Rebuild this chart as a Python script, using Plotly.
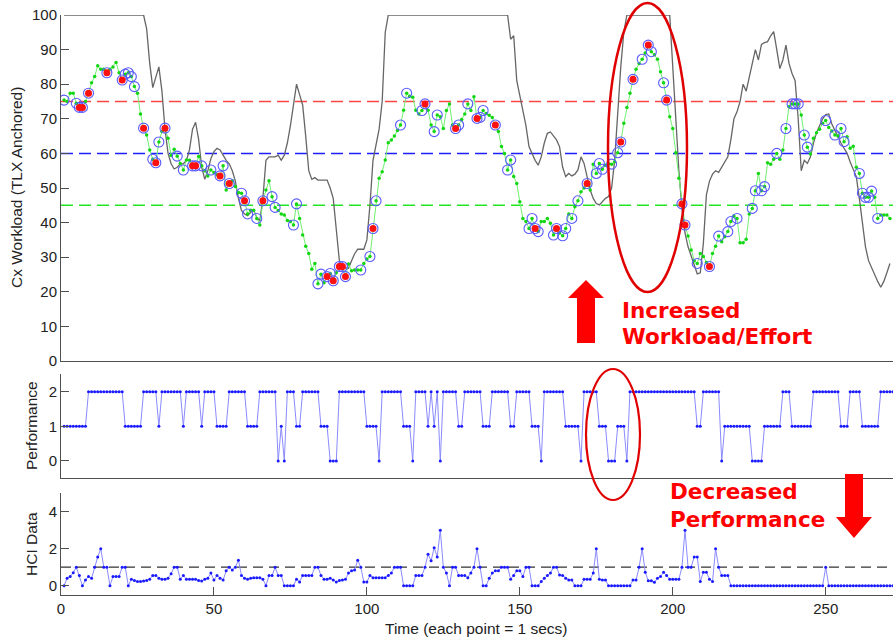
import plotly.graph_objects as go

# ---------------- data (one value per second, starting at t = 1) ----------------
workload_est = [
    75.4, 75.0, 77.4, 77.4, 74.5, 73.3, 73.3, 75.0, 77.4, 80.4,   # 1-10
    82.2, 85.3, 84.3, 84.3, 83.3, 84.3, 85.0, 86.3, 83.3, 81.2,   # 11-20
    82.9, 83.3, 82.2, 79.3, 77.4, 71.4, 67.3, 65.3, 61.0, 58.3,   # 21-30
    57.3, 63.3, 66.3, 67.3, 64.4, 59.4, 61.2, 59.2, 57.1, 55.2,   # 31-40
    58.1, 58.0, 56.4, 56.4, 59.1, 56.4, 55.0, 53.5, 55.2, 54.5,   # 41-50
    53.8, 53.5, 56.4, 49.4, 51.3, 52.1, 50.4, 48.7, 48.5, 46.3,   # 51-60
    42.5, 43.6, 43.6, 41.2, 39.3, 46.3, 49.4, 52.1, 47.5, 44.4,   # 61-70
    43.5, 42.5, 42.2, 40.6, 40.3, 39.3, 45.4, 41.2, 36.4, 33.2,   # 71-80
    31.1, 26.5, 28.2, 22.3, 25.1, 22.6, 24.4, 25.3, 23.2, 25.5,   # 81-90
    27.3, 27.3, 24.4, 28.0, 26.1, 26.3, 26.3, 26.3, 28.2, 29.5,   # 91-100
    30.2, 38.3, 46.3, 52.8, 54.7, 58.1, 63.1, 63.9, 65.0, 66.6,   # 101-110
    68.2, 72.5, 77.4, 76.5, 76.2, 72.5, 71.4, 72.4, 74.3, 72.5,   # 111-120
    68.2, 66.3, 71.1, 70.6, 67.2, 72.4, 74.3, 68.2, 67.2, 68.2,   # 121-130
    69.8, 71.4, 74.3, 72.4, 76.4, 70.1, 70.4, 72.4, 71.5, 71.0,   # 131-140
    70.4, 68.2, 66.3, 62.0, 60.0, 55.2, 58.1, 53.3, 51.3, 46.0,   # 141-150
    41.2, 40.3, 38.3, 41.2, 38.3, 37.4, 40.3, 40.3, 41.2, 39.8,   # 151-160
    36.4, 38.3, 37.0, 36.2, 38.3, 42.5, 41.2, 44.6, 46.3, 48.9,   # 161-170
    50.0, 51.3, 49.4, 56.9, 54.2, 57.1, 55.4, 56.6, 57.0, 56.9,   # 171-180
    57.6, 60.2, 63.3, 68.7, 73.3, 77.4, 81.4, 84.3, 86.0, 87.2,   # 181-190
    89.0, 91.3, 89.4, 88.5, 87.2, 83.6, 80.4, 75.4, 70.6, 67.2,   # 191-200
    60.2, 52.8, 45.4, 39.3, 36.1, 32.1, 29.0, 28.2, 31.1, 30.2,   # 201-210
    28.5, 27.3, 31.1, 33.2, 36.1, 34.5, 35.9, 37.4, 40.3, 41.9,   # 211-220
    41.2, 34.2, 34.2, 35.2, 42.5, 44.1, 49.2, 54.2, 49.2, 50.4,   # 221-230
    57.3, 56.9, 58.3, 60.0, 58.3, 61.0, 67.2, 73.5, 74.3, 74.3,   # 231-240
    74.3, 71.1, 65.3, 61.8, 59.8, 64.4, 66.0, 67.0, 68.7, 69.5,   # 241-250
    67.5, 66.5, 65.3, 65.0, 67.2, 63.4, 64.8, 61.5, 62.1, 56.0,   # 251-260
    54.2, 48.5, 47.3, 47.3, 49.1, 47.3, 41.2, 42.2, 42.2, 42.2,   # 261-270
    41.2,                                                         # 271
]

workload_raw = [
    100, 100, 100, 100, 100, 100, 100, 100, 100, 100,             # 1-10
    100, 100, 100, 100, 100, 100, 100, 100, 100, 100,             # 11-20
    100, 100, 100, 100, 100, 100, 100, 96, 86, 79,                # 21-30
    82, 85, 78, 67, 60, 57, 55.5, 56, 57, 57,                     # 31-40
    58, 61, 67, 69, 64, 56, 52.5, 55, 58.5, 60.5,                 # 41-50
    61.5, 61, 59.5, 58, 57, 55, 52, 47, 43.5, 42.5,               # 51-60
    42, 43, 43.5, 41.5, 40.5, 47, 58, 59, 59, 59,                 # 61-70
    59.5, 58, 59.5, 63, 68, 74, 80, 77, 74, 65,                   # 71-80
    55, 52.5, 53, 52.3, 52.3, 52.3, 52.3, 50, 47, 38,             # 81-90
    29, 27, 26.8, 26.8, 29, 31, 32.3, 32.3, 32.3, 35,             # 91-100
    45, 58, 63, 67, 75, 95, 100, 100, 100, 100,                   # 101-110
    100, 100, 100, 100, 100, 100, 100, 100, 100, 100,             # 111-120
    100, 100, 100, 100, 100, 100, 100, 100, 100, 100,             # 121-130
    100, 100, 100, 100, 100, 100, 100, 100, 100, 100,             # 131-140
    100, 100, 100, 100, 100, 100, 93, 94, 81, 77,                 # 141-150
    72.5, 68, 62, 60, 58, 56.6, 59, 63, 65.8, 66.2,               # 151-160
    65, 63.9, 61.9, 56, 53.3, 54.2, 53.5, 54, 55.2, 59,           # 161-170
    57.1, 53, 49.4, 47, 45.5, 45.1, 46, 47, 47.5, 50,             # 171-180
    58, 73, 85, 95, 100, 100, 100, 100, 100, 100,                 # 181-190
    100, 100, 100, 100, 100, 100, 100, 100, 100, 85,              # 191-200
    70, 55, 44, 37, 33, 30.2, 27.5, 25.2, 25.5, 34,               # 201-210
    48, 52, 54, 55, 54.5, 56, 57.6, 59, 64, 70,                   # 211-220
    72, 75, 80, 78, 82, 86, 90, 87, 91.5, 92,                     # 221-230
    92.3, 94, 95.2, 90, 84.5, 87, 91.3, 86, 83.1, 81,             # 231-240
    70, 55, 58, 57.1, 59, 63, 66, 68, 70, 71.2,                   # 241-250
    71.4, 68.5, 66.5, 64.5, 63, 61.5, 60, 57.5, 55.5, 53.3,       # 251-260
    47, 40, 33, 29, 27, 24.5, 23, 21.3, 23, 25.5,                 # 261-270
    28.2,                                                         # 271
]

circled_seconds = [
    1, 5, 6, 7, 9, 15, 20, 21, 22, 23, 24, 27, 30, 31, 32, 34, 38, 40, 43, 44,
    46, 49, 52, 53, 55, 59, 60, 61, 64, 66, 69, 70, 76, 77, 84, 85, 87, 88, 89,
    91, 92, 93, 98, 101, 102, 103, 111, 113, 118, 119, 122, 123, 129, 130, 133,
    136, 137, 138, 142, 146, 147, 153, 154, 155, 156, 161, 162, 164, 165, 167,
    169, 172, 175, 176, 177, 180, 182, 183, 187, 190, 192, 193, 197, 198, 203,
    204, 208, 212, 215, 218, 219, 221, 226, 227, 229, 230, 234, 237, 239, 240,
    241, 243, 244, 250, 253, 255, 256, 261, 262, 263, 264, 265, 267,
]
red_seconds = [
    6, 7, 9, 15, 20, 27, 31, 34, 43, 44, 52, 55, 60, 66, 87, 89, 91, 92, 93,
    102, 119, 129, 136, 142, 155, 162, 172, 183, 187, 192, 198, 203, 204, 212,
]

performance = [
    1, 1, 1, 1, 1, 1, 1, 1, 2, 2,   # 1-10
    2, 2, 2, 2, 2, 2, 2, 2, 2, 2,   # 11-20
    1, 1, 1, 1, 1, 1, 2, 2, 2, 2,   # 21-30
    2, 1, 2, 2, 2, 2, 2, 2, 2, 1,   # 31-40
    2, 2, 2, 2, 2, 1, 2, 2, 2, 2,   # 41-50
    1, 1, 1, 1, 2, 2, 2, 2, 2, 2,   # 51-60
    1, 1, 1, 1, 2, 2, 2, 2, 2, 2,   # 61-70
    0, 1, 0, 2, 2, 2, 1, 1, 2, 2,   # 71-80
    2, 2, 2, 2, 1, 1, 1, 0, 0, 0,   # 81-90
    2, 2, 2, 2, 2, 2, 2, 2, 2, 1,   # 91-100
    1, 1, 1, 0, 2, 2, 2, 2, 2, 2,   # 101-110
    2, 1, 1, 1, 0, 2, 2, 2, 2, 1,   # 111-120
    2, 1, 2, 0, 2, 2, 2, 2, 2, 1,   # 121-130
    1, 2, 2, 2, 2, 2, 2, 1, 1, 1,   # 131-140
    2, 2, 2, 2, 2, 2, 1, 1, 2, 2,   # 141-150
    2, 2, 2, 1, 1, 1, 0, 2, 2, 2,   # 151-160
    2, 2, 2, 2, 1, 1, 1, 1, 1, 0,   # 161-170
    2, 2, 2, 2, 2, 1, 1, 1, 0, 0,   # 171-180
    0, 1, 1, 1, 0, 2, 2, 2, 2, 2,   # 181-190
    2, 2, 2, 2, 2, 2, 2, 2, 2, 2,   # 191-200
    2, 2, 2, 2, 2, 2, 2, 1, 1, 2,   # 201-210
    2, 2, 2, 2, 2, 0, 1, 1, 1, 1,   # 211-220
    1, 1, 1, 1, 1, 0, 0, 0, 0, 1,   # 221-230
    1, 1, 1, 1, 1, 2, 2, 2, 1, 1,   # 231-240
    1, 1, 1, 1, 1, 2, 2, 2, 2, 2,   # 241-250
    2, 2, 2, 2, 1, 1, 1, 2, 2, 2,   # 251-260
    2, 1, 1, 1, 1, 1, 1, 2, 2, 2,   # 261-270
    2, 2,                           # 271-272
]

hci_data = [
    0, 0.4, 0.5, 0.7, 1.0, 0.55, 0, 0.3, 0.5, 0.4,                    # 1-10
    1.0, 1.55, 2.0, 1.0, 1.0, 0, 0.5, 0.5, 0.5, 1.0,                  # 11-20
    1.0, 0, 0.35, 0.28, 0.22, 0.22, 0.25, 0.28, 0.35, 0.55,           # 21-30
    0.55, 0.4, 0.35, 0.35, 0.4, 0.65, 1.0, 1.0, 0.35, 0.55,           # 31-40
    0.35, 0.35, 0.35, 0.35, 0.28, 0.25, 0.35, 0.4, 0.68, 0.3,         # 41-50
    0.55, 0.4, 0.3, 0.8, 1.0, 0.85, 1.0, 1.38, 0.55, 0.4,             # 51-60
    0.35, 0.4, 0.43, 0.43, 0.43, 0.35, 0, 0.55, 0.55, 1.0,            # 61-70
    0.55, 0.55, 0, 0, 0, 0, 0.35, 0.2, 0.55, 0.55,                    # 71-80
    0.55, 0.55, 1.0, 1.0, 0.55, 0.35, 0.35, 0.4, 0.3, 0.2,            # 81-90
    0.28, 0.3, 0.35, 0.68, 0.8, 0.85, 1.38, 1.0, 0.2, 0.2,            # 91-100
    0.55, 0.43, 0.43, 0.43, 0.43, 0.43, 0.55, 0.68, 1.0, 1.0,         # 101-110
    1.0, 0, 0, 0, 0, 0.55, 0.55, 0.55, 1.0, 1.7,                      # 111-120
    1.35, 2.05, 1.55, 3.0, 1.0, 0.68, 0, 1.0, 1.0, 0.55,              # 121-130
    0.55, 0.55, 0.43, 0.68, 1.0, 2.0, 1.0, 0, 0, 0.4,                 # 131-140
    0.68, 0.8, 0.8, 1.0, 1.0, 1.0, 0.35, 0.55, 0.8, 0.8,              # 141-150
    0.5, 1.0, 1.0, 0, 0, 0, 0.22, 0.4, 0.55, 0.68,                    # 151-160
    1.0, 1.0, 0.57, 0.55, 0.4, 0.3, 0.3, 0, 0, 0,                     # 161-170
    0.35, 0.35, 0.35, 0.68, 2.0, 0.35, 0.3, 0.3, 0, 0,                # 171-180
    0, 0, 0, 0, 0, 0, 0.3, 0.3, 1.0, 2.0,                             # 181-190
    0.72, 0.27, 0.27, 0.18, 0.4, 0.5, 0.72, 0.55, 0.35, 0.35,         # 191-200
    0.35, 0.35, 1.0, 3.0, 1.0, 1.0, 1.55, 1.55, 0.22, 0.72,           # 201-210
    0.72, 0.35, 0.22, 2.0, 1.0, 0.55, 0.55, 0.55, 0, 0,               # 211-220
    0, 0, 0, 0, 0, 0, 0, 0, 0, 0,                                     # 221-230
    0, 0, 0, 0, 0, 0, 0, 0, 0, 0,                                     # 231-240
    0, 0, 0, 0, 0, 0, 0, 0, 0, 1.0,                                   # 241-250
    0, 0, 0, 0, 0, 0, 0, 0, 0, 0,                                     # 251-260
    0, 0, 0, 0, 0, 0, 0, 0, 0, 0,                                     # 261-270
    0, 0,                                                             # 271-272
]

workload_thresholds = [75, 60, 45]
threshold_colors = ["#ff4545", "#1e1eff", "#22e622"]
hci_threshold = 1
time_ticks = [0, 50, 100, 150, 200, 250]
workload_ticks = [0, 10, 20, 30, 40, 50, 60, 70, 80, 90, 100]
performance_ticks = [0, 1, 2]
hci_ticks = [0, 2, 4]

# ---------------- layout helpers ----------------
W, H = 893, 639
L = 61
PW = W - L


def px(x):
    return (x - L) / PW


def py(y):
    return 1 - y / H


t_work = list(range(1, len(workload_est) + 1))
t_raw = list(range(1, len(workload_raw) + 1))
t_perf = list(range(1, len(performance) + 1))
t_hci = list(range(1, len(hci_data) + 1))

AX = "#505050"
FONT = "Liberation Sans, Arial, sans-serif"

fig = go.Figure()

fig.add_trace(go.Scatter(x=t_raw, y=workload_raw, mode="lines",
                         line=dict(color="#666666", width=1.3),
                         xaxis="x", yaxis="y", hoverinfo="skip"))
fig.add_trace(go.Scatter(x=t_work, y=workload_est, mode="lines+markers",
                         line=dict(color="#70f070", width=1),
                         marker=dict(color="#12d612", size=3.5),
                         xaxis="x", yaxis="y"))
fig.add_trace(go.Scatter(x=circled_seconds,
                         y=[workload_est[s - 1] for s in circled_seconds],
                         mode="markers",
                         marker=dict(symbol="circle-open", size=10, color="#5a5aff",
                                     line=dict(width=1.1, color="#5a5aff")),
                         xaxis="x", yaxis="y"))
fig.add_trace(go.Scatter(x=red_seconds,
                         y=[workload_est[s - 1] for s in red_seconds],
                         mode="markers",
                         marker=dict(symbol="circle", size=7, color="#ff1010",
                                     line=dict(width=0)),
                         xaxis="x", yaxis="y"))

fig.add_trace(go.Scatter(x=t_perf, y=performance, mode="lines+markers",
                         line=dict(color="#8a8aff", width=1),
                         marker=dict(color="#1a1aff", size=3),
                         xaxis="x2", yaxis="y2"))
fig.add_trace(go.Scatter(x=t_hci, y=hci_data, mode="lines+markers",
                         line=dict(color="#8a8aff", width=1),
                         marker=dict(color="#1a1aff", size=3),
                         xaxis="x3", yaxis="y3"))

shapes = []
for thr, col in zip(workload_thresholds, threshold_colors):
    shapes.append(dict(type="line", xref="x domain", yref="y", x0=0, x1=1,
                       y0=thr, y1=thr, layer="below",
                       line=dict(color=col, width=1.5, dash="12px,6px")))
shapes.append(dict(type="line", xref="x3 domain", yref="y3", x0=0, x1=1,
                   y0=hci_threshold, y1=hci_threshold, layer="below",
                   line=dict(color="#333333", width=1.2, dash="10px,6px")))

# highlight ellipses
shapes.append(dict(type="circle", xref="paper", yref="paper",
                   x0=px(608), x1=px(687), y0=py(292), y1=py(3),
                   line=dict(color="#e00000", width=2.5)))
shapes.append(dict(type="circle", xref="paper", yref="paper",
                   x0=px(586), x1=px(640), y0=py(500), y1=py(369),
                   line=dict(color="#e00000", width=2.2)))


def arrow_path(pts):
    return "M " + " L ".join(f"{px(a):.5f},{py(b):.5f}" for a, b in pts) + " Z"


up_arrow = [(586, 280), (604, 298), (595, 298), (595, 343), (577, 343), (577, 298), (568, 298)]
down_arrow = [(854, 538), (872, 517), (863, 517), (863, 474), (845, 474), (845, 517), (836, 517)]
for pts in (up_arrow, down_arrow):
    shapes.append(dict(type="path", xref="paper", yref="paper", path=arrow_path(pts),
                       fillcolor="#ff0000", line=dict(width=0)))

annotations = []
for text, y in (("Increased", 310), ("Workload/Effort", 337),
                ("Decreased", 491), ("Performance", 519)):
    x = 620 if y < 400 else 668
    annotations.append(dict(text=f"<b>{text}</b>", xref="paper", yref="paper",
                            x=px(x), y=py(y), xanchor="left", yanchor="middle",
                            showarrow=False,
                            font=dict(family="DejaVu Sans", size=21.5, color="#ff0000")))

for text, yc, xc in (("Cx Workload (TLX Anchored)", 188, 16),
                     ("Performance", 426, 31), ("HCI Data", 544, 31)):
    annotations.append(dict(text=text, xref="paper", yref="paper", x=px(xc), y=py(yc),
                            xanchor="center", yanchor="middle", textangle=-90,
                            showarrow=False, font=dict(family=FONT, size=15.5, color="#222222")))
annotations.append(dict(text="Time (each point = 1 secs)", xref="paper", yref="paper",
                        x=px(476), y=py(628), xanchor="center", yanchor="middle",
                        showarrow=False, font=dict(family=FONT, size=15.5, color="#222222")))


def xax(anchor, labels):
    d = dict(domain=[0, 1], range=[0, 272], anchor=anchor, showline=True, linecolor=AX,
             linewidth=1, showgrid=False, zeroline=False, automargin=False,
             tickfont=dict(family=FONT, size=15, color="#222222"))
    if labels:
        d.update(tickvals=time_ticks, ticks="inside", ticklen=8, tickcolor=AX,
                 showticklabels=True)
    else:
        d.update(ticks="", showticklabels=False)
    return d


def yax(anchor, dom, rng, ticks):
    return dict(domain=dom, range=rng, anchor=anchor, tickvals=ticks, ticks="inside",
                ticklen=8, tickcolor=AX, showline=True, linecolor=AX, linewidth=1,
                showgrid=False, zeroline=False, automargin=False,
                tickfont=dict(family=FONT, size=15, color="#222222"))


fig.update_layout(
    width=W, height=H, showlegend=False,
    margin=dict(l=L, r=0, t=0, b=0),
    paper_bgcolor="white", plot_bgcolor="white",
    xaxis=xax("y", False),
    xaxis2=xax("y2", False),
    xaxis3=xax("y3", True),
    yaxis=yax("x", [py(361), py(15)], [0, 100], workload_ticks),
    yaxis2=yax("x2", [py(478.3), py(374.4)], [-0.5, 2.5], performance_ticks),
    yaxis3=yax("x3", [py(594.9), py(493.2)], [-0.5, 5], hci_ticks),
    shapes=shapes, annotations=annotations,
)

fig.write_html(
    "out.html",
    config={"displayModeBar": False},
    post_script="document.body.style.margin='0';document.body.style.overflow='hidden';",
)
